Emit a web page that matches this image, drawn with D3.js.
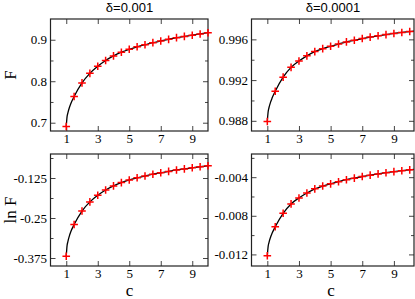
<!DOCTYPE html>
<html>
<head>
<meta charset="utf-8">
<script src="https://cdn.jsdelivr.net/npm/d3@7"></script>
<style>
  html, body { margin: 0; padding: 0; background: #fff; }
  svg { display: block; }
  .tick text { font-family: "Liberation Serif", "Times New Roman", serif; font-size: 13px; fill: #000; }
  .tick line { stroke: #444; }
</style>
</head>
<body>
<div id="chart"></div>
<script>
// c values for the data points (red crosses)
const cPoints = [1, 1.5, 2, 2.5, 3, 3.5, 4, 4.5, 5, 5.5, 6, 6.5, 7, 7.5, 8, 8.5, 9, 9.5, 10];

// delta = 0.001
const fDelta3 = [0.691, 0.763, 0.796, 0.819, 0.836, 0.850, 0.861, 0.870, 0.877, 0.883,
                 0.888, 0.893, 0.897, 0.901, 0.905, 0.908, 0.911, 0.914, 0.917];
const lnFDelta3 = [-0.3696, -0.2705, -0.2282, -0.1997, -0.1791, -0.1625, -0.1497, -0.1393, -0.1312, -0.1244,
                   -0.1188, -0.1132, -0.1087, -0.1043, -0.0998, -0.0965, -0.0932, -0.0899, -0.0867];

// delta = 0.0001
const fDelta4 = [0.98793, 0.99090, 0.99229, 0.99325, 0.99387, 0.99438, 0.99480, 0.99509, 0.99532, 0.99554,
                 0.99575, 0.99591, 0.99608, 0.99622, 0.99635, 0.99647, 0.99658, 0.99668, 0.99677];
const lnFDelta4 = [-0.01214, -0.00914, -0.00774, -0.00677, -0.00615, -0.00564, -0.00521, -0.00492, -0.00469, -0.00447,
                   -0.00426, -0.00410, -0.00393, -0.00379, -0.00366, -0.00354, -0.00343, -0.00333, -0.00324];

// extra points (steep part near c = 1, tail past c = 10)
const curveExtraC      = [1.05, 1.1, 1.2, 1.3];
const curveF3Extra     = [0.714, 0.723, 0.7365, 0.747];
const curveLnF3Extra   = [-0.3369, -0.3243, -0.3058, -0.2917];
const curveF4Extra     = [0.98887, 0.98926, 0.98981, 0.99023];
const curveLnF4Extra   = [-0.01119, -0.01080, -0.01024, -0.00982];
const tailC = 10.27;
const tailF4 = 0.99681;
const tailLnF4 = -0.00320;

// ticks
const xMajor = [1, 3, 5, 7, 9];
const yTicksF3 = [0.7, 0.8, 0.9],          yMinorF3 = [0.75, 0.85];
const yTicksF4 = [0.988, 0.992, 0.996],    yMinorF4 = [0.990, 0.994];
const yTicksLn3 = [-0.375, -0.25, -0.125], yMinorLn3 = [-0.3125, -0.1875, -0.0625];
const yTicksLn4 = [-0.012, -0.008, -0.004], yMinorLn4 = [-0.010, -0.006, -0.002];
const yLabelsF3 = ["0.7", "0.8", "0.9"];
const yLabelsF4 = ["0.988", "0.992", "0.996"];
const yLabelsLn3 = ["-0.375", "-0.25", "-0.125"];
const yLabelsLn4 = ["-0.012", "-0.008", "-0.004"];
const titles = ["\u03b4=0.001", "\u03b4=0.0001"];

const W = 415, H = 299;
const svg = d3.select("#chart").append("svg").attr("width", W).attr("height", H);

const panels = [
  { x0: 50.5, x1: 208, y0: 19, y1: 131, xMax: 10, yDom: [0.68, 0.95],
    pts: fDelta3, ex: curveF3Extra, tail: null,
    yt: yTicksF3, ym: yMinorF3, yl: yLabelsF3 },
  { x0: 251.5, x1: 414, y0: 19, y1: 131, xMax: 10.27, yDom: [0.987, 0.998],
    pts: fDelta4, ex: curveF4Extra, tail: tailF4,
    yt: yTicksF4, ym: yMinorF4, yl: yLabelsF4 },
  { x0: 50.5, x1: 208, y0: 154, y1: 266, xMax: 10, yDom: [-0.4, -0.05],
    pts: lnFDelta3, ex: curveLnF3Extra, tail: null,
    yt: yTicksLn3, ym: yMinorLn3, yl: yLabelsLn3 },
  { x0: 251.5, x1: 414, y0: 154, y1: 266, xMax: 10.27, yDom: [-0.0132, -0.0016],
    pts: lnFDelta4, ex: curveLnF4Extra, tail: tailLnF4,
    yt: yTicksLn4, ym: yMinorLn4, yl: yLabelsLn4 }
];

panels.forEach(p => {
  const x = d3.scaleLinear().domain([0, p.xMax]).range([p.x0, p.x1]);
  const y = d3.scaleLinear().domain(p.yDom).range([p.y1, p.y0]);
  const g = svg.append("g");

  // major + minor ticks on all four sides, pointing inward
  const addAxis = (axis, tx, ty) => {
    const a = g.append("g").attr("transform", `translate(${tx},${ty})`).call(axis);
    a.select(".domain").remove();
    return a;
  };
  addAxis(d3.axisBottom(x).tickValues(xMajor).tickSize(-5).tickPadding(3).tickFormat(d3.format("d")), 0, p.y1);
  addAxis(d3.axisTop(x).tickValues(xMajor).tickSize(-5).tickFormat(""), 0, p.y0);
  addAxis(d3.axisLeft(y).tickValues(p.yt).tickSize(-5).tickPadding(3.5)
    .tickFormat((d, i) => p.yl[i]), p.x0, 0);
  addAxis(d3.axisRight(y).tickValues(p.yt).tickSize(-5).tickFormat(""), p.x1, 0);
  addAxis(d3.axisLeft(y).tickValues(p.ym).tickSize(-3).tickFormat(""), p.x0, 0);
  addAxis(d3.axisRight(y).tickValues(p.ym).tickSize(-3).tickFormat(""), p.x1, 0);

  // frame
  g.append("rect")
    .attr("x", p.x0).attr("y", p.y0)
    .attr("width", p.x1 - p.x0).attr("height", p.y1 - p.y0)
    .attr("fill", "none").attr("stroke", "#222").attr("stroke-width", 1.2);

  // black curve through the points
  let line = cPoints.map((c, i) => [c, p.pts[i]])
    .concat(curveExtraC.map((c, i) => [c, p.ex[i]]));
  if (p.tail !== null) line.push([tailC, p.tail]);
  line.sort((a, b) => a[0] - b[0]);
  g.append("path")
    .datum(line)
    .attr("fill", "none").attr("stroke", "#000").attr("stroke-width", 1.3)
    .attr("d", d3.line().x(d => x(d[0])).y(d => y(d[1])).curve(d3.curveMonotoneX));

  // red crosses
  const s = 3.8;
  g.append("g").selectAll("path")
    .data(cPoints.map((c, i) => [c, p.pts[i]]))
    .join("path")
    .attr("d", d => {
      const px = x(d[0]), py = y(d[1]);
      return `M${px - s},${py}H${px + s}M${px},${py - s}V${py + s}`;
    })
    .attr("stroke", "#ff0000").attr("stroke-width", 1.5).attr("fill", "none");
});

// titles
[[129.5, titles[0]], [333, titles[1]]].forEach(([cx, t]) => {
  svg.append("text").attr("x", cx).attr("y", 12)
    .attr("text-anchor", "middle")
    .style("font-family", "'Liberation Sans', Arial, sans-serif").style("font-size", "13px")
    .text(t);
});

// axis labels
const labelFont = "'Liberation Serif', 'Times New Roman', serif";
[["F", 75], ["ln F", 210]].forEach(([t, cy]) => {
  svg.append("text")
    .attr("transform", `translate(16,${cy}) rotate(-90)`)
    .attr("text-anchor", "middle")
    .style("font-family", labelFont).style("font-size", "17px")
    .text(t);
});
[129.5, 331].forEach(cx => {
  svg.append("text").attr("x", cx).attr("y", 296)
    .attr("text-anchor", "middle")
    .style("font-family", labelFont).style("font-size", "17px")
    .text("c");
});
</script>
</body>
</html>
